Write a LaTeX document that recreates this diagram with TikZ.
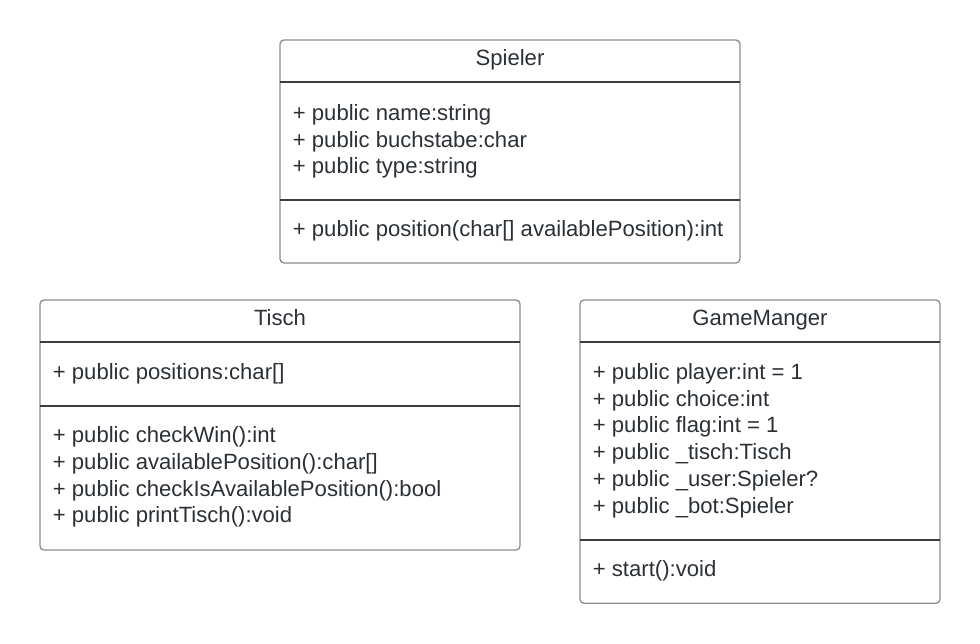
\documentclass[tikz,border=0pt]{standalone}
\usepackage{fontspec}
\setmainfont{Liberation Sans}
\definecolor{txt}{HTML}{2B2F36}
\definecolor{frame}{HTML}{8A8C90}
\definecolor{rule}{HTML}{3A3D42}
\begin{document}
\begin{tikzpicture}[x=1pt,y=-1pt,
  classbox/.style={draw=frame,line width=1.3pt,rounded corners=4pt,inner sep=0pt,fill=none},
  divider/.style={draw=rule,line width=1.1pt},
  lbl/.style={anchor=base west,inner sep=0pt,text=txt,font=\fontsize{22.1}{26.7}\selectfont},
  ttl/.style={anchor=base,inner sep=0pt,text=txt,font=\fontsize{22.1}{26.7}\selectfont}]
\useasboundingbox (0,0) rectangle (980,644);
% Spieler
\node[classbox,minimum width=460pt,minimum height=223pt] (sp) at (510,151.5) {};
\draw[divider] (280,82) coordinate (sp1) -- (740,82) coordinate (sp2);
\draw[divider] (280,200) coordinate (sp3) -- (740,200) coordinate (sp4);
\node[ttl] (spt) at (510,65.7) {Spieler};
\node[lbl] (spa1) at (292.7,120.5) {+ public name:string};
\node[lbl] (spa2) at (292.7,147.2) {+ public buchstabe:char};
\node[lbl] (spa3) at (292.7,173.9) {+ public type:string};
\node[lbl] (spm1) at (292.7,236.2) {+ public position(char[] availablePosition):int};
% Tisch
\node[classbox,minimum width=480pt,minimum height=250pt] (ti) at (280,425) {};
\draw[divider] (40,342) coordinate (ti1) -- (520,342) coordinate (ti2);
\draw[divider] (40,406) coordinate (ti3) -- (520,406) coordinate (ti4);
\node[ttl] (tit) at (280,325.7) {Tisch};
\node[lbl] (tia1) at (52.7,379.5) {+ public positions:char[]};
\node[lbl] (tim1) at (52.7,442.8) {+ public checkWin():int};
\node[lbl] (tim2) at (52.7,469.5) {+ public availablePosition():char[]};
\node[lbl] (tim3) at (52.7,496.2) {+ public checkIsAvailablePosition():bool};
\node[lbl] (tim4) at (52.7,522.9) {+ public printTisch():void};
% GameManger
\node[classbox,minimum width=360pt,minimum height=303.3pt] (gm) at (760,451.65) {};
\draw[divider] (580,342) coordinate (gm1) -- (940,342) coordinate (gm2);
\draw[divider] (580,540) coordinate (gm3) -- (940,540) coordinate (gm4);
\node[ttl] (gmt) at (760,325.7) {GameManger};
\node[lbl] (gma1) at (592.7,379.5) {+ public player:int = 1};
\node[lbl] (gma2) at (592.7,406.2) {+ public choice:int};
\node[lbl] (gma3) at (592.7,432.9) {+ public flag:int = 1};
\node[lbl] (gma4) at (592.7,459.6) {+ public \_tisch:Tisch};
\node[lbl] (gma5) at (592.7,486.3) {+ public \_user:Spieler?};
\node[lbl] (gma6) at (592.7,513.0) {+ public \_bot:Spieler};
\node[lbl] (gmm1) at (592.7,576.2) {+ start():void};
\end{tikzpicture}
\end{document}
